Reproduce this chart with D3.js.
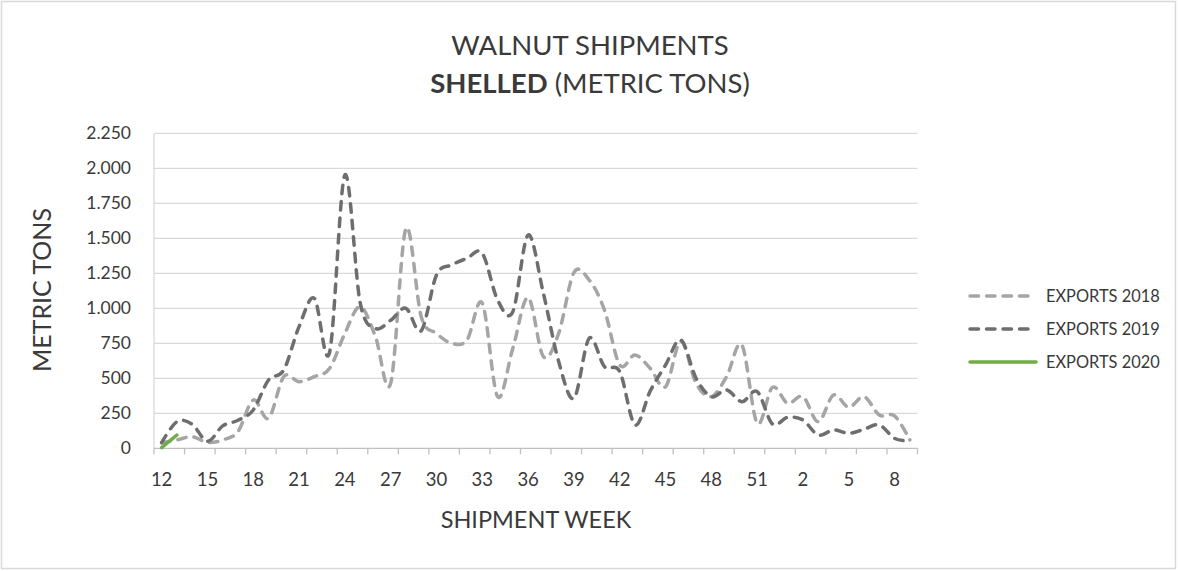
<!DOCTYPE html>
<html><head><meta charset="utf-8">
<script src="https://cdn.jsdelivr.net/npm/d3@7"></script>
<style>
html,body{margin:0;padding:0;background:#fff;}
svg{display:block;font-family:Lato,"Open Sans",sans-serif;}
</style></head>
<body>
<svg id="chart" width="1178" height="571"></svg>
<script>
// ---------- DATA ----------
const weeks = [12,13,14,15,16,17,18,19,20,21,22,23,24,25,26,27,28,29,30,31,32,33,34,35,36,37,38,39,40,41,42,43,44,45,46,47,48,49,50,51,52,1,2,3,4,5,6,7,8,9];
const exports2018 = [40,60,83,42,60,119,345,214,512,476,512,571,821,1012,798,464,1571,940,821,750,774,1036,369,715,1077,655,821,1255,1202,988,595,667,570,440,765,464,369,512,738,179,435,321,369,190,381,293,369,238,231,60];
const exports2019 = [40,190,172,50,160,200,274,488,560,869,1071,686,1952,1040,857,915,1000,840,1238,1310,1357,1393,1060,976,1524,1107,620,357,786,583,548,167,410,595,774,500,369,417,333,405,174,221,202,95,131,107,136,167,71,52];
const exports2020 = [5,95];
const yTickValues = [0,250,500,750,1000,1250,1500,1750,2000,2250];
const xLabelWeeks = [12,15,18,21,24,27,30,33,36,39,42,45,48,51,2,5,8];
const seriesNames = ["EXPORTS 2018","EXPORTS 2019","EXPORTS 2020"];
const titleLine1 = "WALNUT SHIPMENTS";
const titleBold = "SHELLED";
const titleRest = " (METRIC TONS)";
const yTitle = "METRIC TONS";
const xTitle = "SHIPMENT WEEK";

// ---------- LAYOUT ----------
const W = 1178, H = 571;
const plot = {left:154, right:917.5, top:133.3, bottom:448.3};
const textColor = "#3a3a3a";
const gridColor = "#d9d9d9";

const svg = d3.select("#chart");

// outer border
svg.append("rect").attr("x",1.5).attr("y",1.5).attr("width",W-4).attr("height",H-4)
  .attr("fill","#fff").attr("stroke","#d9d9d9").attr("stroke-width",1.5);

const keys = weeks.map((w,i)=>i);
const x = d3.scaleBand().domain(keys).range([plot.left, plot.right]).padding(0);
const xc = i => x(i) + x.bandwidth()/2;
const y = d3.scaleLinear().domain([0,2250]).range([plot.bottom, plot.top]);

const loc = d3.formatLocale({decimal:",", thousands:".", grouping:[3], currency:["",""]});
const fmt = loc.format(",d");

// gridlines
svg.append("g").selectAll("line").data(yTickValues.filter(v=>v>0)).join("line")
  .attr("x1",plot.left).attr("x2",plot.right)
  .attr("y1",d=>y(d)).attr("y2",d=>y(d))
  .attr("stroke",gridColor).attr("stroke-width",1.3);

// y axis line
svg.append("line").attr("x1",plot.left).attr("x2",plot.left).attr("y1",plot.top).attr("y2",plot.bottom)
  .attr("stroke",gridColor).attr("stroke-width",1.3);

// y tick labels
svg.append("g").selectAll("text").data(yTickValues).join("text")
  .attr("x",131).attr("y",d=>y(d)).attr("dy","0.35em")
  .attr("text-anchor","end").attr("fill",textColor)
  .style("font-size","17.5px").text(d=>fmt(d));

// x axis baseline and tick marks (every 2 categories)
svg.append("line").attr("x1",plot.left).attr("x2",plot.right).attr("y1",plot.bottom).attr("y2",plot.bottom)
  .attr("stroke","#bfbfbf").attr("stroke-width",1.3);
const tickIdx = d3.range(0, weeks.length+1, 2);
svg.append("g").selectAll("line").data(tickIdx).join("line")
  .attr("x1",d=> d < weeks.length ? x(d) : plot.right)
  .attr("x2",d=> d < weeks.length ? x(d) : plot.right)
  .attr("y1",plot.bottom).attr("y2",plot.bottom+6)
  .attr("stroke","#bfbfbf").attr("stroke-width",1.3);

// x tick labels
svg.append("g").selectAll("text").data(xLabelWeeks).join("text")
  .attr("x",w=>xc(weeks.indexOf(w))).attr("y",480).attr("dy","0.35em")
  .attr("text-anchor","middle").attr("fill",textColor)
  .style("font-size","18.5px").text(w=>w);

// axis titles
svg.append("text").attr("x",536).attr("y",520).attr("dy","0.35em")
  .attr("text-anchor","middle").attr("fill",textColor).style("font-size","23.5px").text(xTitle);
svg.append("text").attr("transform","translate(42,290) rotate(-90)").attr("dy","0.35em")
  .attr("text-anchor","middle").attr("fill",textColor).style("font-size","25px").text(yTitle);

// title
svg.append("text").attr("x",590).attr("y",45).attr("dy","0.35em").attr("text-anchor","middle")
  .attr("fill",textColor).style("font-size","27.5px").style("font-weight",400).text(titleLine1);
const t2 = svg.append("text").attr("x",590).attr("y",83).attr("dy","0.35em").attr("text-anchor","middle")
  .attr("fill",textColor).style("font-size","27.5px").style("font-weight",400);
t2.append("tspan").style("font-weight",700).text(titleBold);
t2.append("tspan").text(titleRest);

// lines
const line = d3.line().x((d,i)=>xc(i)).y(d=>y(d)).curve(d3.curveCatmullRom.alpha(0));
const series = [
  {name:seriesNames[0], values:exports2018, color:"#a5a5a5", dash:"8.5,8"},
  {name:seriesNames[1], values:exports2019, color:"#6e6e6e", dash:"8.5,8"},
  {name:seriesNames[2], values:exports2020, color:"#70ad47", dash:null}
];
svg.append("g").selectAll("path").data(series).join("path")
  .attr("d",d=>line(d.values)).attr("fill","none")
  .attr("stroke",d=>d.color).attr("stroke-width",3.5)
  .attr("stroke-linecap","round").attr("stroke-linejoin","round")
  .attr("stroke-dasharray",d=>d.dash);

// legend
const lg = svg.append("g").selectAll("g").data(series).join("g")
  .attr("transform",(d,i)=>`translate(0,${296 + i*33})`);
lg.append("line").attr("x1",970).attr("x2",1036).attr("y1",0).attr("y2",0)
  .attr("stroke",d=>d.color).attr("stroke-width",3.5).attr("stroke-linecap","round")
  .attr("stroke-dasharray",d=>d.dash);
lg.append("text").attr("x",1046).attr("y",0).attr("dy","0.35em").attr("fill",textColor)
  .style("font-size","16.4px").text(d=>d.name);
</script>
</body></html>
